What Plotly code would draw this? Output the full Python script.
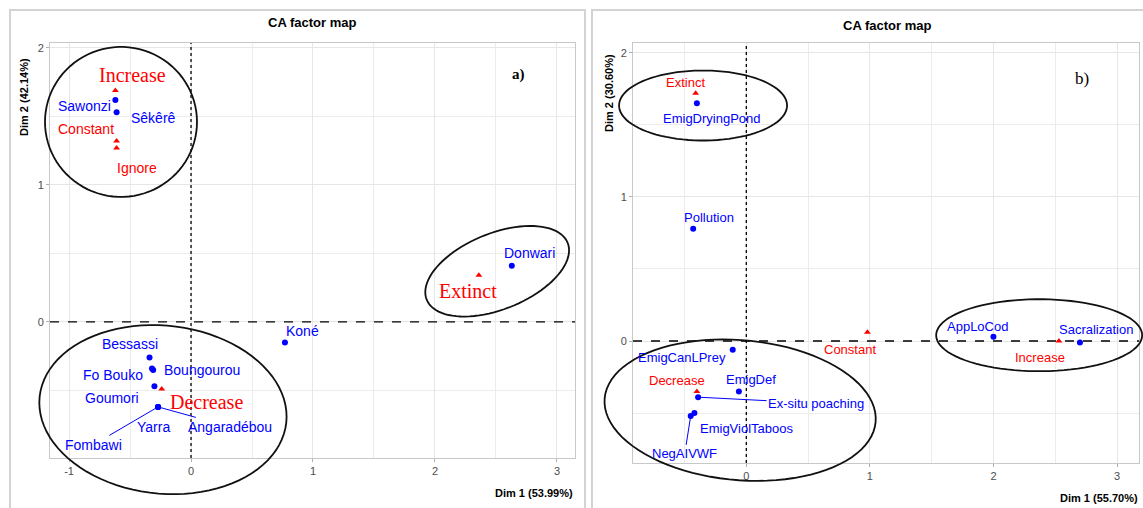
import math
import plotly.graph_objects as go

W, H = 1143, 508

# ---------------- data: panel a ----------------
a_rows = ["Increase", "Constant", "Ignore", "Extinct", "Decrease"]
a_rows_d1 = [-0.62, -0.61, -0.61, 2.36, -0.24]
a_rows_d2 = [1.69, 1.32, 1.27, 0.34, -0.49]

a_cols = ["Sawonzi", "Sêkêrê", "Donwari", "Koné", "Bessassi", "Fo Bouko",
          "Boungourou", "Goumori", "Yarra", "Angaradébou", "Fombawi"]
a_cols_d1 = [-0.62, -0.61, 2.63, 0.77, -0.34, -0.32, -0.31, -0.30, -0.27, -0.27, -0.27]
a_cols_d2 = [1.62, 1.53, 0.41, -0.15, -0.26, -0.34, -0.35, -0.47, -0.62, -0.62, -0.62]

# ---------------- data: panel b ----------------
b_rows = ["Extinct", "Constant", "Decrease", "Increase"]
b_rows_d1 = [-0.41, 0.98, -0.40, 2.53]
b_rows_d2 = [1.72, 0.06, -0.35, 0.00]

b_cols = ["EmigDryingPond", "Pollution", "EmigCanLPrey", "EmigDef", "Ex-situ poaching",
          "EmigViolTaboos", "NegAIVWF", "AppLoCod", "Sacralization"]
b_cols_d1 = [-0.40, -0.43, -0.11, -0.06, -0.39, -0.42, -0.45, 2.00, 2.70]
b_cols_d2 = [1.65, 0.78, -0.06, -0.35, -0.39, -0.50, -0.52, 0.03, -0.01]

x_ticks = [-1, 0, 1, 2, 3]
y_ticks = [0, 1, 2]

# ---------------- layout geometry (pixels) ----------------
A_DOM_X = (50, 575)
A_DOM_Y = (43, 458)
A_RX = (-1.156, 3.148)
A_RY = (-0.993, 2.036)

B_DOM_X = (633, 1139)
B_DOM_Y = (43, 463)
B_RX = (-0.917, 3.178)
B_RY = (-0.847, 2.069)

BLUE = "#0000FF"
RED = "#FF0000"
SANS = "Liberation Sans, Arial, sans-serif"
SERIF = "Liberation Serif, Times New Roman, serif"


def to_px(v, dom, rng, vertical=False):
    f = (v - rng[0]) / (rng[1] - rng[0])
    if vertical:
        return dom[1] - f * (dom[1] - dom[0])
    return dom[0] + f * (dom[1] - dom[0])


def ellipse_path(cx, cy, a, b, ang, domx, domy, rx, ry, n=90):
    px0 = to_px(cx, domx, rx)
    py0 = to_px(cy, domy, ry, vertical=True)
    th = math.radians(ang)
    pts = []
    for i in range(n + 1):
        t = 2 * math.pi * i / n
        px = px0 + a * math.cos(t) * math.cos(th) - b * math.sin(t) * math.sin(th)
        py = py0 - (a * math.cos(t) * math.sin(th) + b * math.sin(t) * math.cos(th))
        pts.append((px / W, 1 - py / H))
    s = "M " + " L ".join(f"{x:.5f},{y:.5f}" for x, y in pts) + " Z"
    return s


fig = go.Figure()

# markers
fig.add_trace(go.Scatter(x=a_cols_d1, y=a_cols_d2, mode="markers",
                         marker=dict(symbol="circle", size=6, color=BLUE),
                         xaxis="x", yaxis="y", showlegend=False, cliponaxis=False))
fig.add_trace(go.Scatter(x=a_rows_d1, y=a_rows_d2, mode="markers",
                         marker=dict(symbol="triangle-up", size=6, color=RED),
                         xaxis="x", yaxis="y", showlegend=False, cliponaxis=False))
fig.add_trace(go.Scatter(x=b_cols_d1, y=b_cols_d2, mode="markers",
                         marker=dict(symbol="circle", size=6, color=BLUE),
                         xaxis="x2", yaxis="y2", showlegend=False, cliponaxis=False))
fig.add_trace(go.Scatter(x=b_rows_d1, y=b_rows_d2, mode="markers",
                         marker=dict(symbol="triangle-up", size=6, color=RED),
                         xaxis="x2", yaxis="y2", showlegend=False, cliponaxis=False))

# label offsets (screen px: dx right, dy down), font, size, leader line
a_row_lab = {
    "Increase": (17, -15, SERIF, 20, False),
    "Constant": (-31, -12, SANS, 14, False),
    "Ignore": (20, 20, SANS, 14, False),
    "Extinct": (-11, 16, SERIF, 20, False),
    "Decrease": (45, 13, SERIF, 20, False),
}
a_col_lab = {
    "Sawonzi": (-31, 6, False),
    "Sêkêrê": (37, 6, False),
    "Donwari": (18, -13, False),
    "Koné": (18, -12, False),
    "Bessassi": (-20, -14, False),
    "Fo Bouko": (-39, 6, False),
    "Boungourou": (49, 0, False),
    "Goumori": (-42, 12, False),
    "Yarra": (-5, 20, False),
    "Angaradébou": (72, 20, True),
    "Fombawi": (-65, 38, True),
}
b_row_lab = {
    "Extinct": (-10, -11),
    "Constant": (-17, 17),
    "Decrease": (-20, -11),
    "Increase": (-19, 16),
}
b_col_lab = {
    "EmigDryingPond": (15, 15, False),
    "Pollution": (16, -11, False),
    "EmigCanLPrey": (-51, 8, False),
    "EmigDef": (12, -12, False),
    "Ex-situ poaching": (118, 6, True),
    "EmigViolTaboos": (52, 15, False),
    "NegAIVWF": (-6, 38, True),
    "AppLoCod": (-16, -10, False),
    "Sacralization": (16, -13, False),
}

ann = []


def add_label(text, x, y, dx, dy, color, family, size, line, xr, yr):
    if line:
        ann.append(dict(text=text, x=x, y=y, xref=xr, yref=yr, ax=dx, ay=dy,
                        axref="pixel", ayref="pixel", showarrow=True, arrowhead=0,
                        arrowwidth=1, arrowcolor=color, standoff=0, startstandoff=0,
                        font=dict(family=family, size=size, color=color)))
    else:
        ann.append(dict(text=text, x=x, y=y, xref=xr, yref=yr, xshift=dx, yshift=-dy,
                        showarrow=False, font=dict(family=family, size=size, color=color)))


for n, x, y in zip(a_rows, a_rows_d1, a_rows_d2):
    dx, dy, fam, sz, ln = a_row_lab[n]
    add_label(n, x, y, dx, dy, RED, fam, sz, ln, "x", "y")
for n, x, y in zip(a_cols, a_cols_d1, a_cols_d2):
    dx, dy, ln = a_col_lab[n]
    add_label(n, x, y, dx, dy, BLUE, SANS, 14, ln, "x", "y")
for n, x, y in zip(b_rows, b_rows_d1, b_rows_d2):
    dx, dy = b_row_lab[n]
    add_label(n, x, y, dx, dy, RED, SANS, 13, False, "x2", "y2")
for n, x, y in zip(b_cols, b_cols_d1, b_cols_d2):
    dx, dy, ln = b_col_lab[n]
    add_label(n, x, y, dx, dy, BLUE, SANS, 13, ln, "x2", "y2")


def paper_text(text, px, py, size, bold=True, family=SANS, xanchor="center", angle=0, color="#000000"):
    t = f"<b>{text}</b>" if bold else text
    ann.append(dict(text=t, x=px / W, y=1 - py / H, xref="paper", yref="paper",
                    showarrow=False, xanchor=xanchor, yanchor="middle", textangle=angle,
                    font=dict(family=family, size=size, color=color)))


paper_text("CA factor map", 312, 22, 13)
paper_text("CA factor map", 887, 25, 13)
paper_text("Dim 1 (53.99%)", 575, 493, 11, xanchor="right")
paper_text("Dim 1 (55.70%)", 1140, 498, 11, xanchor="right")
paper_text("Dim 2 (42.14%)", 24, 97, 11, angle=-90)
paper_text("Dim 2 (30.60%)", 609, 93, 11, angle=-90)
paper_text("a)", 518, 75, 15, family=SERIF)
paper_text("b)", 1082, 79, 17, bold=False, family=SERIF)

# ---------------- shapes ----------------
shapes = []
# outer frames
shapes.append(dict(type="rect", xref="paper", yref="paper", x0=10 / W, x1=585 / W,
                   y0=-0.05, y1=1 - 10 / H, line=dict(color="#d3d3d3", width=2)))
shapes.append(dict(type="rect", xref="paper", yref="paper", x0=592 / W, x1=1.05,
                   y0=-0.05, y1=1 - 10 / H, line=dict(color="#d3d3d3", width=2)))
# zero reference lines
for xr, yr in (("x", "y"), ("x2", "y2")):
    shapes.append(dict(type="line", xref=xr, yref=yr + " domain", x0=0, x1=0, y0=0, y1=1,
                       line=dict(color="#000000", width=1.3, dash="dot")))
    shapes.append(dict(type="line", xref=xr + " domain", yref=yr, x0=0, x1=1, y0=0, y1=0,
                       line=dict(color="#000000", width=1.3, dash="dash")))

# ellipses highlighting groups (center in data units, radii in px, tilt in degrees)
a_ell = [(-0.574, 1.46, 76, 75, 0), (2.51, 0.37, 76, 38, 22), (-0.23, -0.64, 124, 84, -6)]
b_ell = [(-0.35, 1.635, 84, 35, 0), (-0.05, -0.48, 136, 70, -5), (2.37, 0.04, 103, 36, 0)]
for cx, cy, ra, rb, ang in a_ell:
    shapes.append(dict(type="path", xref="paper", yref="paper",
                       path=ellipse_path(cx, cy, ra, rb, ang, A_DOM_X, A_DOM_Y, A_RX, A_RY),
                       line=dict(color="#111111", width=1.8)))
for cx, cy, ra, rb, ang in b_ell:
    shapes.append(dict(type="path", xref="paper", yref="paper",
                       path=ellipse_path(cx, cy, ra, rb, ang, B_DOM_X, B_DOM_Y, B_RX, B_RY),
                       line=dict(color="#111111", width=1.8)))


def axis(dom, rng, ticks, anchor, horiz):
    d = (dom[0] / W, dom[1] / W) if horiz else (1 - dom[1] / H, 1 - dom[0] / H)
    return dict(domain=list(d), range=list(rng), anchor=anchor, tickvals=ticks,
                ticktext=[str(t) for t in ticks], showgrid=True, gridcolor="#e6e6e6",
                gridwidth=1, zeroline=False, showline=True, mirror=True,
                linecolor="#c8c8c8", linewidth=1, ticks="outside", ticklen=3,
                tickcolor="#b0b0b0", tickfont=dict(family=SANS, size=11, color="#4d4d4d"),
                minor=dict(dtick=0.5, tick0=0, showgrid=True, gridcolor="#ececec", ticks=""),
                fixedrange=True)


fig.update_layout(
    width=W, height=H, margin=dict(l=0, r=0, t=0, b=0),
    paper_bgcolor="white", plot_bgcolor="white", showlegend=False,
    xaxis=axis(A_DOM_X, A_RX, x_ticks, "y", True),
    yaxis=axis(A_DOM_Y, A_RY, y_ticks, "x", False),
    xaxis2=axis(B_DOM_X, B_RX, x_ticks, "y2", True),
    yaxis2=axis(B_DOM_Y, B_RY, y_ticks, "x2", False),
    shapes=shapes, annotations=ann,
)

fig.write_html("out.html", config={"displayModeBar": False},
               post_script="document.body.style.margin='0';document.body.style.overflow='hidden';")
